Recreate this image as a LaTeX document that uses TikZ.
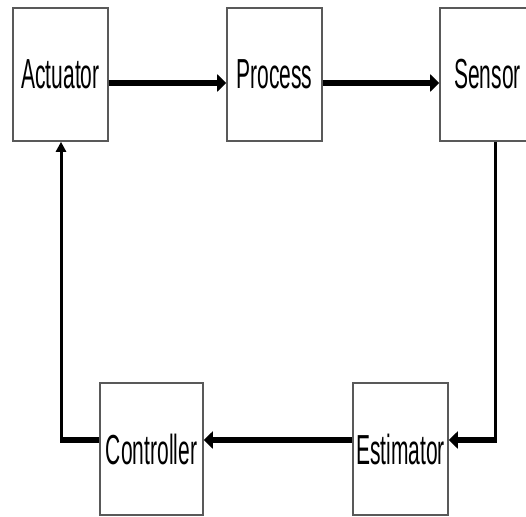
\documentclass[tikz,border=0pt]{standalone}
\usepackage{fontspec}
\setmainfont{Liberation Sans}
\usetikzlibrary{arrows.meta}
\newcommand{\sqz}[1]{\raisebox{-3.5pt}{\scalebox{0.5}[1]{#1}}}
\tikzset{
  blk/.style={draw=black!65, line width=1.6pt, fill=white, minimum width=95pt, minimum height=133pt, inner sep=0pt, font=\fontsize{42}{42}\selectfont},
  fat/.style={line width=5.5pt, black},
  fatarrow/.style={fat, -{Triangle[length=9pt,width=17pt]}},
  slim/.style={line width=3pt, black},
  slimarrow/.style={slim, -{Triangle[length=10pt,width=10pt]}}
}
\begin{document}
\begin{tikzpicture}[x=1pt,y=-1pt]
\useasboundingbox (0,0) rectangle (526,516);
\clip (0,0) rectangle (526,516);
\node[blk] (act) at (60.5,74.5) {\sqz{Actuator}};
\node[blk] (proc) at (274.5,74.5) {\sqz{Process}};
\node[blk] (sens) at (487.5,74.5) {\sqz{Sensor}};
\node[blk, minimum width=103pt, minimum height=132pt] (ctrl) at (151.5,449) {\sqz{Controller}};
\node[blk, minimum height=132pt] (est) at (400.5,449) {\sqz{Estimator}};
\coordinate (yt) at (0,83);
\coordinate (c1) at (495,440);
\coordinate (c2) at (61,440);
\draw[fatarrow] (act.east |- yt) -- (proc.west |- yt);
\draw[fatarrow] (proc.east |- yt) -- (sens.west |- yt);
\draw[slim] (sens.south -| c1) -- ([yshift=-2.7pt]c1);
\draw[fatarrow] ([xshift=1.5pt]c1) -- (est.east |- c1);
\draw[fatarrow] (est.west |- c1) -- (ctrl.east |- c1);
\draw[fat] (ctrl.west |- c2) -- ([xshift=-1.5pt]c2);
\draw[slimarrow] ([yshift=2.7pt]c2) -- (c2 |- act.south);
\end{tikzpicture}
\end{document}
